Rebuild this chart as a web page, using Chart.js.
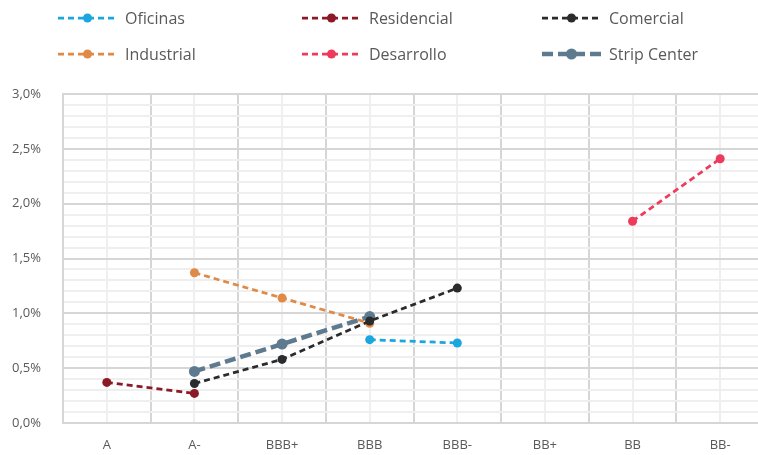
<!DOCTYPE html>
<html lang="es">
<head>
<meta charset="utf-8">
<title>Spreads por rating</title>
<script src="https://cdn.jsdelivr.net/npm/chart.js@4.4.1/dist/chart.umd.min.js"></script>
<style>
  html, body { margin: 0; padding: 0; background: #fff; overflow: hidden; }
  .wrap { position: relative; width: 764px; height: 455px; }
  canvas { display: block; }
  .leyenda { position: absolute; left: 0; top: 0; width: 758px; height: 80px; font-family: "Open Sans", sans-serif; font-size: 16px; color: #595959; }
  .item { position: absolute; display: flex; align-items: center; height: 24px; }
  .item svg { margin-right: 8px; }
</style>
</head>
<body>
<div class="wrap">
  <canvas id="grafico" width="764" height="455"></canvas>
  <div class="leyenda" id="leyenda"></div>
</div>
<script>
// Datos del gráfico (en %)
const categorias = ['A', 'A-', 'BBB+', 'BBB', 'BBB-', 'BB+', 'BB', 'BB-'];
const oficinas    = [null, null, null, 0.76, 0.73, null, null, null];
const residencial = [0.37, 0.27, null, null, null, null, null, null];
const comercial   = [null, 0.36, 0.58, 0.93, 1.23, null, null, null];
const industrial  = [null, 1.37, 1.14, 0.91, null, null, null, null];
const desarrollo  = [null, null, null, null, null, null, 1.84, 2.41];
const stripCenter = [null, 0.47, 0.72, 0.97, null, null, null, null];

const ejeMax = 3;
const pasoMayor = 0.5;
const pasoMenor = 0.1;

// Posición de cada elemento de la leyenda (3 columnas x 2 filas)
const colsLeyenda = [58, 302, 542];
const filasLeyenda = [6, 42];

function serie(label, data, color, ancho, dash, radio) {
  return {
    label: label,
    data: data,
    borderColor: color,
    backgroundColor: color,
    pointBackgroundColor: color,
    pointBorderWidth: 0,
    borderWidth: ancho,
    borderDash: dash,
    pointRadius: radio,
    pointHoverRadius: radio,
    spanGaps: false,
    tension: 0
  };
}

const series = [
  serie('Oficinas', oficinas, '#1ba6df', 2.75, [6, 4], 4.5),
  serie('Residencial', residencial, '#8c1a26', 2.75, [6, 4], 4.5),
  serie('Comercial', comercial, '#2a2b2d', 2.75, [6, 4], 4.5),
  serie('Industrial', industrial, '#e08a47', 2.75, [6, 4], 4.5),
  serie('Desarrollo', desarrollo, '#ee3a5b', 2.75, [6, 4], 4.5),
  serie('Strip Center', stripCenter, '#5e7a8f', 4.5, [11, 5], 5.5)
];

// Líneas menores verticales en el centro de cada categoría
const gridMenorX = {
  id: 'gridMenorX',
  beforeDraw(chart) {
    const { ctx, chartArea, scales } = chart;
    ctx.save();
    ctx.strokeStyle = '#efefef';
    ctx.lineWidth = 2;
    categorias.forEach((c, i) => {
      const x = Math.round(scales.x.getPixelForValue(i));
      ctx.beginPath();
      ctx.moveTo(x, chartArea.top);
      ctx.lineTo(x, chartArea.bottom);
      ctx.stroke();
    });
    ctx.restore();
  }
};

const esMayor = v => Math.abs(v / pasoMayor - Math.round(v / pasoMayor)) < 1e-6;

const ctx = document.getElementById('grafico').getContext('2d');
const grafico = new Chart(ctx, {
  type: 'line',
  data: { labels: categorias, datasets: series },
  options: {
    responsive: false,
    animation: false,
    layout: { autoPadding: false, padding: { top: 94, right: 0, left: 0, bottom: 0 } },
    plugins: {
      legend: { display: false },
      tooltip: { enabled: false }
    },
    scales: {
      x: {
        offset: true,
        grid: { offset: true, color: '#d6d6d6', lineWidth: 2, drawTicks: false },
        border: { color: '#d6d6d6', width: 2 },
        ticks: { color: '#595959', font: { family: 'Open Sans', size: 13 }, padding: 14, maxRotation: 0 },
        afterFit: s => { s.height = 32; }
      },
      y: {
        min: 0,
        max: ejeMax,
        grid: {
          drawTicks: false,
          lineWidth: 2,
          color: c => esMayor(c.tick.value) ? '#d6d6d6' : '#efefef'
        },
        border: { color: '#d6d6d6', width: 2 },
        ticks: {
          stepSize: pasoMenor,
          autoSkip: false,
          padding: 22,
          color: '#595959',
          font: { family: 'Open Sans', size: 13 },
          callback: v => esMayor(v) ? v.toFixed(1).replace('.', ',') + '%' : ''
        },
        afterFit: s => { s.width = 63; }
      }
    }
  },
  plugins: [gridMenorX]
});

// Leyenda en HTML con marcador de línea punteada y punto
const leyenda = document.getElementById('leyenda');
series.forEach((s, i) => {
  const item = document.createElement('div');
  item.className = 'item';
  item.style.left = colsLeyenda[i % 3] + 'px';
  item.style.top = filasLeyenda[Math.floor(i / 3)] + 'px';
  const dash = s.borderDash.join(' ');
  item.innerHTML =
    '<svg width="59" height="14"><line x1="0" y1="7" x2="59" y2="7" stroke="' + s.borderColor +
    '" stroke-width="' + s.borderWidth + '" stroke-dasharray="' + dash + '"/>' +
    '<circle cx="29.5" cy="7" r="' + s.pointRadius + '" fill="' + s.borderColor + '"/></svg>' +
    '<span>' + s.label + '</span>';
  leyenda.appendChild(item);
});
</script>
</body>
</html>
